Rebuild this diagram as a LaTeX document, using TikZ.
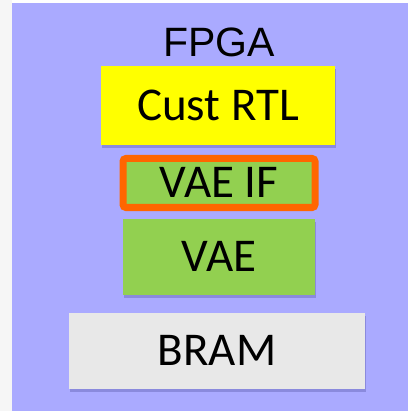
\documentclass[tikz,border=0pt]{standalone}
\usepackage{fontspec}
\setmainfont{Carlito}
\newfontfamily\arialf{Liberation Sans}
\usetikzlibrary{shadows}
\definecolor{fpgabg}{HTML}{AAAAFF}
\definecolor{custyel}{HTML}{FFFF00}
\definecolor{vaegreen}{HTML}{92D050}
\definecolor{ifor}{HTML}{FF6600}
\definecolor{bramgray}{HTML}{E8E8E8}
\definecolor{shadowc}{HTML}{5050A0}
\begin{document}
\begin{tikzpicture}[x=1pt,y=-1pt,
  blk/.style={inner sep=0pt, text height=29.5pt, text depth=0pt,
    font=\fontsize{47}{47}\selectfont,
    drop shadow={shadow xshift=1pt, shadow yshift=-3pt, opacity=0.35, fill=shadowc}}]
\useasboundingbox (0,0) rectangle (408,411);
\fill[white] (0,0) rectangle (408,411);
\fill[gray!7] (0,0) rectangle (12,411);
\node[fill=fpgabg, inner sep=0pt, minimum width=396pt, minimum height=408pt, anchor=north west] (fpga) at (12,3) {};
\node[inner sep=0pt, text height=29pt, text depth=0pt, font=\arialf\fontsize{41}{41}\selectfont] (title) at (219,42) {FPGA};
\node[blk, fill=custyel, minimum width=234pt, minimum height=79pt] (rtl) at (218,105.5) {Cust RTL};
\node[blk, fill=vaegreen, draw=ifor, line width=7pt, rounded corners=3pt, minimum width=192pt, minimum height=49pt] (vaeif) at (219,183) {VAE IF};
\node[blk, fill=vaegreen, minimum width=192pt, minimum height=76pt] (vae) at (219,257) {VAE};
\node[blk, fill=bramgray, minimum width=296pt, minimum height=76pt] (bram) at (217,351) {BRAM};
\end{tikzpicture}
\end{document}
